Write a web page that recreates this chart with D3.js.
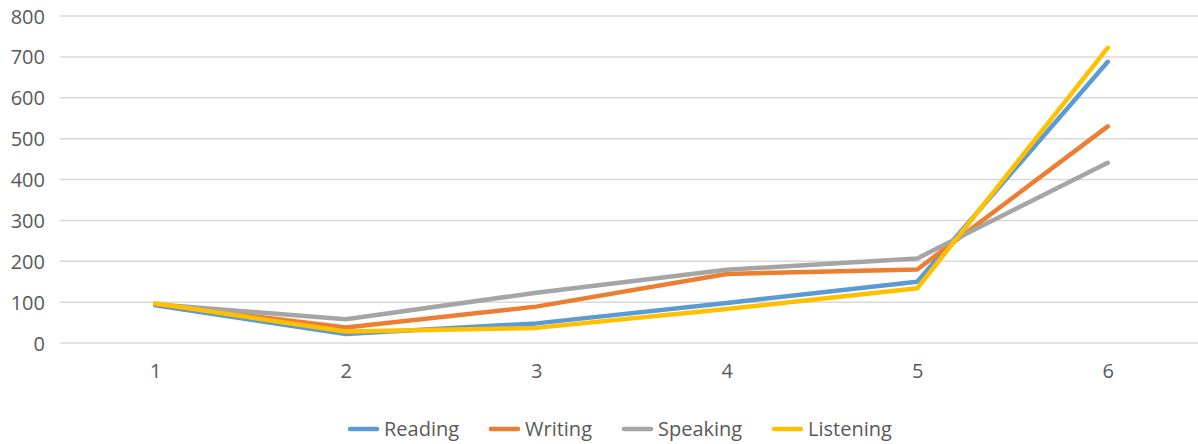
<!DOCTYPE html>
<html>
<head>
<meta charset="utf-8">
<script src="https://cdn.jsdelivr.net/npm/d3@7"></script>
<style>
  html, body { margin: 0; padding: 0; background: #fff; }
  svg { display: block; font-family: "Open Sans", sans-serif; }
</style>
</head>
<body>
<svg id="chart" width="1198" height="444"></svg>
<script>
// Categories along the x axis
const categories = ["1", "2", "3", "4", "5", "6"];

// Series values
const reading   = [92, 22, 48, 98, 150, 688];
const writing   = [95, 38, 89, 169, 180, 530];
const speaking  = [95, 58, 123, 179, 207, 441];
const listening = [97, 28, 37, 83, 134, 722];

// Y axis ticks
const yTicks = [0, 100, 200, 300, 400, 500, 600, 700, 800];

const seriesNames = ["Reading", "Writing", "Speaking", "Listening"];
const seriesColors = ["#5B9BD5", "#ED7D31", "#A5A5A5", "#FFC000"];
const seriesValues = [reading, writing, speaking, listening];

const svg = d3.select("#chart");

const x = d3.scalePoint().domain(categories).range([60, 1203]).padding(0.5);
const y = d3.scaleLinear().domain([0, 800]).range([343, 16]);

// Horizontal gridlines
svg.append("g")
  .selectAll("line")
  .data(yTicks)
  .join("line")
  .attr("x1", 60).attr("x2", 1198)
  .attr("y1", d => y(d)).attr("y2", d => y(d))
  .attr("stroke", "#d9d9d9")
  .attr("stroke-width", 1.5);

// Y axis labels
const yAxis = d3.axisLeft(y).tickValues(yTicks).tickSize(0).tickPadding(0);
svg.append("g")
  .attr("transform", "translate(45,0)")
  .call(yAxis)
  .call(g => g.select(".domain").remove())
  .call(g => g.selectAll("text")
    .attr("fill", "#595959")
    .attr("font-size", 20)
    .attr("font-family", "Open Sans, sans-serif")
    .attr("dy", "0.35em"));

// X axis labels
const xAxis = d3.axisBottom(x).tickSize(0).tickPadding(0);
svg.append("g")
  .attr("transform", "translate(0,371)")
  .call(xAxis)
  .call(g => g.select(".domain").remove())
  .call(g => g.selectAll("text")
    .attr("fill", "#595959")
    .attr("font-size", 20)
    .attr("font-family", "Open Sans, sans-serif")
    .attr("dy", "0.35em"));

// Series lines
const line = d3.line()
  .x((d, i) => x(categories[i]))
  .y(d => y(d));

svg.append("g")
  .selectAll("path")
  .data(seriesValues)
  .join("path")
  .attr("d", d => line(d))
  .attr("fill", "none")
  .attr("stroke", (d, i) => seriesColors[i])
  .attr("stroke-width", 4.5)
  .attr("stroke-linejoin", "round")
  .attr("stroke-linecap", "round");

// Legend
const legendX = [350, 491, 624, 774];
const legend = svg.append("g")
  .selectAll("g")
  .data(seriesNames)
  .join("g")
  .attr("transform", (d, i) => `translate(${legendX[i]},429)`);

legend.append("line")
  .attr("x1", 0).attr("x2", 27)
  .attr("y1", 0).attr("y2", 0)
  .attr("stroke", (d, i) => seriesColors[i])
  .attr("stroke-width", 4.5)
  .attr("stroke-linecap", "round");

legend.append("text")
  .attr("x", 34)
  .attr("y", 0)
  .attr("dy", "0.35em")
  .attr("fill", "#595959")
  .attr("font-size", 20)
  .text(d => d);
</script>
</body>
</html>
